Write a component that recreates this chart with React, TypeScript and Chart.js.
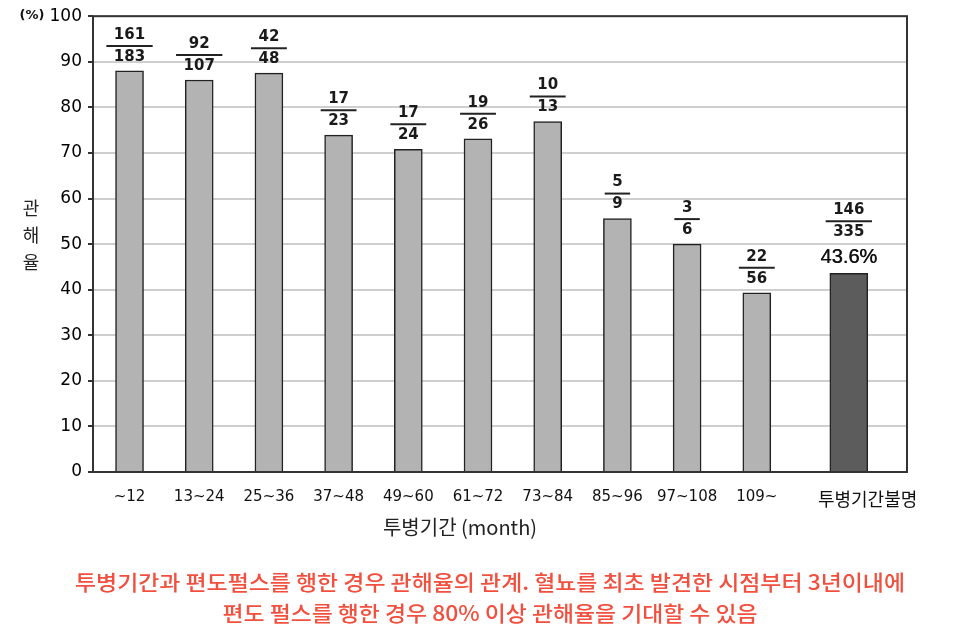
import { useEffect, useRef } from 'react';
import { Chart, registerables } from 'chart.js';

Chart.register(...registerables);

const categories = ['~12', '13~24', '25~36', '37~48', '49~60', '61~72', '73~84', '85~96', '97~108', '109~', '투병기간불명'];
const numerators = [161, 92, 42, 17, 17, 19, 10, 5, 3, 22, 146];
const denominators = [183, 107, 48, 23, 24, 26, 13, 9, 6, 56, 335];
const rates = [88.0, 86.0, 87.5, 73.9, 70.8, 73.1, 76.9, 55.6, 50.0, 39.3, 43.6];
const yMin = 0;
const yMax = 100;
const yStep = 10;
const xTitle = '투병기간 (month)';
const yTitle = '관해율';
const yUnit = '(%)';
const captionLines = [
  '투병기간과 편도펄스를 행한 경우 관해율의 관계. 혈뇨를 최초 발견한 시점부터 3년이내에',
  '편도 펄스를 행한 경우 80% 이상 관해율을 기대할 수 있음',
];

const GAP_SHIFT = 0.32;
const LABEL_SHIFT = 0.27;
const NUM_FONT = 'DejaVu Sans, sans-serif';
const KR_FONT = '"Noto Sans CJK KR", sans-serif';

export default function App() {
  const ref = useRef<HTMLCanvasElement>(null);

  useEffect(() => {
    document.body.style.margin = '0';
    const canvas = ref.current;
    if (!canvas) return;
    const n = categories.length;
    const pos = categories.map((_, i) => (i === n - 1 ? i + GAP_SHIFT : i));
    const tickPos = categories.map((_, i) => (i === n - 1 ? i + GAP_SHIFT + LABEL_SHIFT : i));
    const greyData = rates.slice(0, n - 1).map((v, i) => ({ x: pos[i], y: v }));
    const darkData = [{ x: pos[n - 1], y: rates[n - 1] }];

    const drawScaledText = (ctx: any, text: string, cx: number, cy: number, width: number) => {
      const w = ctx.measureText(text).width;
      const sx = width / w;
      ctx.save();
      ctx.translate(cx, cy);
      ctx.scale(sx, 1);
      ctx.fillText(text, 0, 0);
      ctx.restore();
    };

    const decorPlugin = {
      id: 'decor',
      afterDraw(chart: any) {
        const ctx = chart.ctx;
        const a = chart.chartArea;
        ctx.save();
        // frame
        ctx.strokeStyle = '#333';
        ctx.lineWidth = 2;
        ctx.strokeRect(a.left, a.top, a.right - a.left, a.bottom - a.top);

        // fraction labels
        const drawFraction = (x: number, top: number, i: number, isLast: boolean) => {
          ctx.fillStyle = '#1a1a1a';
          ctx.textAlign = 'center';
          ctx.textBaseline = 'middle';
          ctx.font = `bold 15px ${NUM_FONT}`;
          const num = String(numerators[i]);
          const den = String(denominators[i]);
          const w = Math.max(ctx.measureText(num).width, ctx.measureText(den).width) + 15;
          let base = top;
          if (isLast) {
            ctx.fillStyle = '#111';
            ctx.font = `20px "Liberation Sans", Arial, sans-serif`;
            ctx.fillText(`${rates[i].toFixed(1)}%`, x, top - 16);
            ctx.fillText(`${rates[i].toFixed(1)}%`, x + 0.4, top - 16);
            ctx.fillStyle = '#1a1a1a';
            base = top - 27;
          }
          ctx.font = `bold 15px ${NUM_FONT}`;
          ctx.fillText(den, x, base - 14);
          ctx.fillText(num, x, base - 36);
          ctx.strokeStyle = '#222';
          ctx.lineWidth = 2;
          ctx.beginPath();
          ctx.moveTo(x - w / 2, base - 25);
          ctx.lineTo(x + w / 2, base - 25);
          ctx.stroke();
        };
        const m0 = chart.getDatasetMeta(0);
        m0.data.forEach((el: any, i: number) => drawFraction(el.x, el.y, i, false));
        const m1 = chart.getDatasetMeta(1);
        m1.data.forEach((el: any) => drawFraction(el.x, el.y, n - 1, true));

        // unit
        ctx.fillStyle = '#111';
        ctx.font = `bold 13px ${NUM_FONT}`;
        ctx.textAlign = 'center';
        ctx.textBaseline = 'middle';
        ctx.fillText(yUnit, 32, 16);

        // y title stacked
        ctx.font = `18px ${KR_FONT}`;
        ctx.fillStyle = '#222';
        Array.from(yTitle).forEach((ch, k) => {
          ctx.fillText(ch, 31, 208 + k * 27);
        });

        // x title
        ctx.font = `20px ${KR_FONT}`;
        ctx.fillText(xTitle, 460, 527);

        // captions
        ctx.fillStyle = '#f2503f';
        ctx.font = `500 21px ${KR_FONT}`;
        drawScaledText(ctx, captionLines[0], 490, 582, 830);
        drawScaledText(ctx, captionLines[1], 490, 613, 535);
        ctx.restore();
      },
    };

    const chart = new Chart(canvas, {
      type: 'bar',
      data: {
        datasets: [
          {
            data: greyData,
            backgroundColor: '#b3b3b3',
            borderColor: '#222',
            borderWidth: 1.5,
            barThickness: 28,
          },
          {
            data: darkData,
            backgroundColor: '#5c5c5c',
            borderColor: '#222',
            borderWidth: 1.5,
            barThickness: 38,
          },
        ],
      } as any,
      options: {
        responsive: false,
        animation: false,
        grouped: false,
        layout: { padding: { left: 0, right: 53, top: 16, bottom: 0 } },
        plugins: { legend: { display: false }, tooltip: { enabled: false } },
        scales: {
          x: {
            type: 'linear',
            offset: false,
            min: -0.524,
            max: 11.155,
            grid: { display: false, drawTicks: false, offset: false },
            border: { display: false },
            afterBuildTicks: (s: any) => {
              s.ticks = tickPos.map((v) => ({ value: v }));
            },
            afterFit: (s: any) => {
              s.height = 159;
            },
            ticks: {
              autoSkip: false,
              maxRotation: 0,
              minRotation: 0,
              padding: 16,
              color: '#111',
              callback: (_v: any, i: number) => categories[i],
              font: (c: any) =>
                c.index === n - 1
                  ? { family: KR_FONT, size: 18 }
                  : { family: NUM_FONT, size: 15 },
            },
          },
          y: {
            min: yMin,
            max: yMax,
            grid: { color: '#cfcfcf', lineWidth: 2, tickLength: 5, tickColor: '#333', tickWidth: 2 },
            border: { display: false },
            afterFit: (s: any) => {
              s.width = 93;
            },
            ticks: {
              stepSize: yStep,
              padding: 6,
              color: '#000',
              font: { family: NUM_FONT, size: 17 },
            },
          },
        },
      } as any,
      plugins: [decorPlugin],
    });
    return () => chart.destroy();
  }, []);

  return (
    <div style={{ width: 960, height: 631, background: '#fff' }}>
      <canvas ref={ref} width={960} height={631} />
    </div>
  );
}
